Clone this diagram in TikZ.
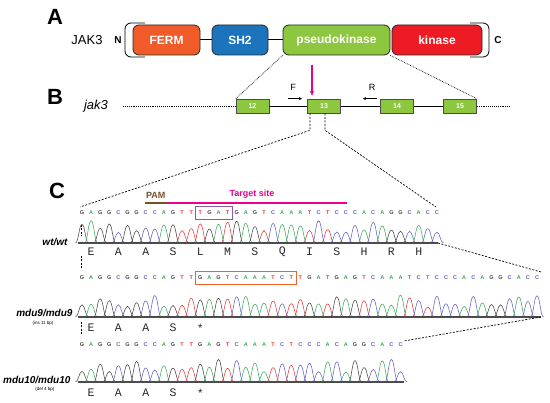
\documentclass[tikz,border=0pt]{standalone}
\usepackage{fontspec}
\setmainfont{Liberation Sans}
\setsansfont{Liberation Sans}
\setmonofont{Liberation Mono}
\usetikzlibrary{arrows.meta}
\usetikzlibrary{fit}
\usetikzlibrary{calc}
\definecolor{cFerm}{RGB}{241,90,41}
\definecolor{cSH}{RGB}{28,117,188}
\definecolor{cGreen}{RGB}{141,198,63}
\definecolor{cKin}{RGB}{237,28,36}
\definecolor{cPink}{RGB}{236,0,140}
\definecolor{cBrown}{RGB}{120,80,40}
\definecolor{cViolet}{RGB}{142,91,166}
\definecolor{cOrange}{RGB}{240,100,40}
\definecolor{baseA}{RGB}{60,170,90}
\definecolor{baseC}{RGB}{95,95,200}
\definecolor{baseG}{RGB}{70,70,70}
\definecolor{baseT}{RGB}{225,60,60}

% one row of bases with its trace: name, letter y, baseline y, bases
\newcommand{\seqrow}[4]{%
    \foreach \b [count=\i from 0] in {#4}{
        \pgfmathsetmacro{\xx}{82+9.1*\i}
        \pgfmathsetmacro{\hh}{10+13*rnd}
        \node[nt, text=base\b] (#1-\i) at (\xx,#2) {\b};
        \draw[chrom, draw=base\b] (\xx-6.5,#3)
            .. controls (\xx-3.5,#3) and (\xx-3,#3-\hh) .. (\xx,#3-\hh)
            .. controls (\xx+3,#3-\hh) and (\xx+3.5,#3) .. (\xx+6.5,#3);
    }%
}
% one row of amino acids: name, y, residues
\newcommand{\aarow}[3]{%
    \foreach \a [count=\k from 0] in {#3}{
        \node[aa] (#1-\k) at (91.1+27.3*\k,#2) {\a};
    }%
}

\begin{document}
\begin{tikzpicture}[
    x=1pt, y=-1pt,
    every node/.style={font=\sffamily},
    dom/.style={
        draw=black!85, line width=0.8pt, rounded corners=6pt,
        minimum height=30pt, inner sep=0pt, text=white,
        font=\sffamily\bfseries\fontsize{12}{14}\selectfont
    },
    exon/.style={
        draw=black!70, fill=cGreen, line width=0.6pt,
        minimum width=33pt, minimum height=14pt, inner sep=0pt,
        text=white, font=\sffamily\bfseries\fontsize{7}{8}\selectfont
    },
    panel/.style={font=\sffamily\bfseries\fontsize{22}{24}\selectfont},
    nt/.style={inner sep=0pt, text height=4pt, text depth=0pt,
        font=\sffamily\bfseries\fontsize{5.5}{6}\selectfont},
    aa/.style={inner sep=0pt, text=black!85,
        font=\ttfamily\fontsize{11.5}{12}\selectfont},
    chrom/.style={line width=0.55pt},
    baseln/.style={draw=black!70, line width=1.1pt},
    zoomln/.style={densely dotted, line width=0.7pt},
    dashln/.style={dashed, dash pattern=on 2pt off 1.5pt, line width=0.7pt},
    geno/.style={anchor=east,
        font=\sffamily\bfseries\itshape\fontsize{10}{12}\selectfont},
    note/.style={font=\sffamily\fontsize{4.5}{5}\selectfont}
]
    \useasboundingbox (0,0) rectangle (550,403);
    \pgfmathsetseed{11}

    % A: protein
    \node[panel] (pA) at (55,17) {A};
    \node[font=\sffamily\fontsize{13}{14}\selectfont] (jak) at (87,40) {JAK3};
    \node[font=\sffamily\bfseries\fontsize{10}{12}\selectfont] (nterm) at (118,40) {N};
    \node[font=\sffamily\bfseries\fontsize{10}{12}\selectfont] (cterm) at (498,40) {C};
    \draw[line width=0.8pt, rounded corners=6pt] (145,23) -- (125,23) -- (125,57) -- (145,57);
    \draw[line width=0.8pt, rounded corners=6pt] (470,23) -- (489,23) -- (489,57) -- (470,57);
    \node[dom, fill=cFerm, minimum width=67pt] (ferm) at (166.5,40) {FERM};
    \node[dom, fill=cSH, minimum width=56pt] (sh2) at (240,40) {SH2};
    \node[dom, fill=cGreen, minimum width=107pt] (pk) at (336.5,40) {pseudokinase};
    \node[dom, fill=cKin, minimum width=90pt] (kin) at (437,40) {kinase};
    \draw[line width=1pt] (ferm) -- (sh2);
    \draw[line width=1pt] (sh2) -- (pk);

    % B: gene
    \node[panel] (pB) at (55,97) {B};
    \node[font=\sffamily\itshape\fontsize{13}{14}\selectfont] (gene) at (96,106) {jak3};
    \node[exon] (ex12) at (252.5,106) {12};
    \node[exon] (ex13) at (324,106) {13};
    \node[exon] (ex14) at (397,106) {14};
    \node[exon] (ex15) at (460,106) {15};
    \coordinate (g0) at (123,106);
    \coordinate (g1) at (510,106);
    \draw[densely dotted, line width=0.9pt] (g0) -- (ex12);
    \draw[line width=0.9pt] (ex12) -- (ex13);
    \draw[line width=0.9pt] (ex13) -- (ex14);
    \draw[line width=0.9pt] (ex14) -- (ex15);
    \draw[densely dotted, line width=0.9pt] (ex15) -- (g1);
    \draw[zoomln] (pk.south west) -- (ex12.north west);
    \draw[zoomln] (pk.south east) -- (ex15.north east);
    \coordinate (cut) at (312,65);
    \draw[cPink, line width=1.4pt, -{Stealth[length=5pt,width=4.5pt]}]
        (cut) -- ($(cut |- ex13.north)+(0,-3)$);
    \node[font=\sffamily\fontsize{9}{10}\selectfont] (fw) at (293,87) {F};
    \node[font=\sffamily\fontsize{9}{10}\selectfont] (rv) at (372,87) {R};
    \draw[line width=0.7pt, -{Stealth[length=3pt,width=3pt]}]
        ([xshift=-5pt,yshift=-5pt]fw.south) -- ([xshift=9pt,yshift=-5pt]fw.south);
    \draw[line width=0.7pt, -{Stealth[length=3pt,width=3pt]}]
        ([xshift=5pt,yshift=-5pt]rv.south) -- ([xshift=-9pt,yshift=-5pt]rv.south);

    % C: sequencing
    \node[panel] (pC) at (57,191) {C};
    \seqrow{wt}{213}{243}{G,A,G,G,C,G,G,C,C,A,G,T,T,T,G,A,T,G,A,G,T,C,A,A,A,T,C,T,C,C,C,A,C,A,G,G,C,A,C,C}
    \seqrow{mA}{278}{317}{G,A,G,G,C,G,G,C,C,A,G,T,T,G,A,G,T,C,A,A,A,T,C,T,T,G,A,T,G,A,G,T,C,A,A,A,T,C,T,C,C,C,A,C,A,G,G,C,A,C,C}
    \seqrow{mB}{345}{382}{G,A,G,G,C,G,G,C,C,A,G,T,T,G,A,G,T,C,A,A,A,T,C,T,C,C,C,A,C,A,G,G,C,A,C,C}
    \draw[baseln] (78,243) -- (438,243);
    \draw[baseln] (78,317) -- (541,317);
    \draw[baseln] (78,382) -- (404,382);
    \aarow{pwt}{252}{E,A,A,S,L,M,S,Q,I,S,H,R,H}
    \aarow{pmA}{328}{E,A,A,S,*}
    \aarow{pmB}{393}{E,A,A,S,*}

    \node[fit=(wt-13)(wt-16), draw=cViolet, line width=0.8pt,
        inner xsep=3pt, inner ysep=4.5pt] (sitebox) {};
    \node[fit=(mA-13)(mA-23), draw=cOrange, line width=0.8pt,
        inner xsep=3pt, inner ysep=4.5pt] (insbox) {};

    \coordinate (pamL) at ($(wt-7)+(-1,-10)$);
    \coordinate (pamR) at ($(wt-9)+(3,-10)$);
    \coordinate (tgtR) at ($(wt-29)+(1,-10)$);
    \draw[cBrown, line width=2.5pt] (pamL) -- (pamR);
    \draw[cPink, line width=2.5pt] (pamR) -- (tgtR);
    \node[text=cBrown, font=\sffamily\bfseries\fontsize{9}{10}\selectfont,
        anchor=south] (pam) at ($(pamL)!0.5!(pamR)+(0,-1)$) {PAM};
    \node[text=cPink, font=\sffamily\bfseries\fontsize{9}{10}\selectfont,
        anchor=south] (tgt) at (252,202) {Target site};

    \node[geno] (gwt) at (71,242) {wt/wt};
    \node[geno] (gmA) at (76,313) {mdu9/mdu9};
    \node[note] (nmA) at (43,323) {(ins 11 bp)};
    \node[geno] (gmB) at (74,380) {mdu10/mdu10};
    \node[note] (nmB) at (45,389) {(del 4 bp)};

    % zoom lines
    \coordinate (zl) at (80,207);
    \coordinate (zr) at (436,207);
    \draw[dashln] ([xshift=-14pt]ex13.south) -- ++(0,17) -- (zl);
    \draw[dashln] ([xshift=1pt]ex13.south) -- ++(0,17) -- (zr);
    \coordinate (wtEnd) at (438,243);
    \coordinate (mAtop) at (541,272);
    \coordinate (mAEnd) at (541,317);
    \coordinate (mBtop) at (404,341);
    \draw[dashln] (wtEnd) -- (mAtop);
    \draw[dashln] (mAEnd) -- (mBtop);
    \draw[dashln] (81,225) -- (81,236);
    \draw[dashln] (81,256) -- (81,270);
    \draw[dashln] (81,322) -- (81,334);

\end{tikzpicture}
\end{document}
